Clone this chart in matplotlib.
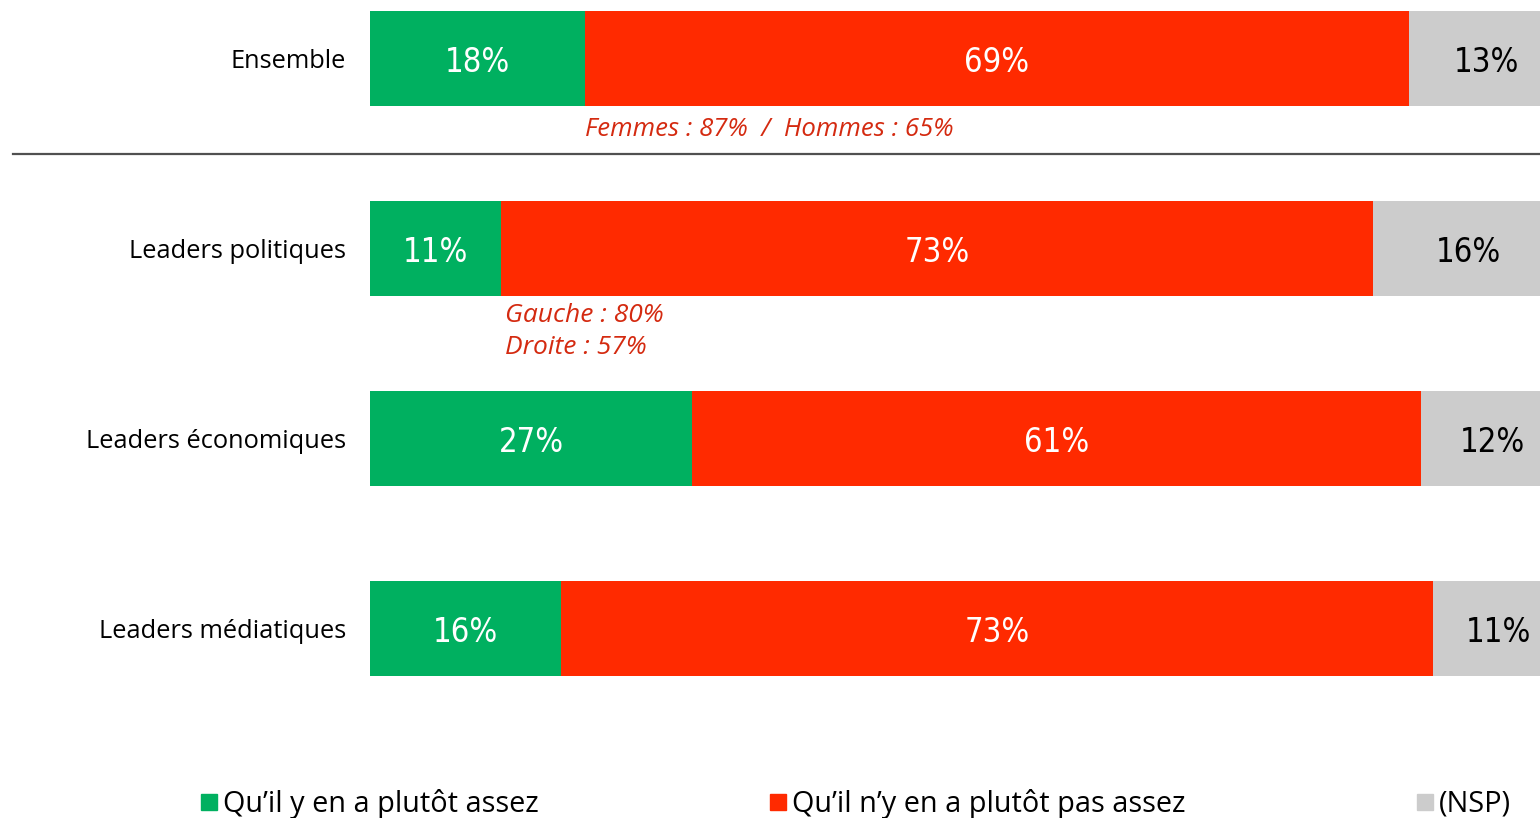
import matplotlib.pyplot as plt
import numpy as np

# data -----------------------------------------------------------------
categories = ["Ensemble", "Leaders politiques", "Leaders économiques", "Leaders médiatiques"]
assez = [18, 11, 27, 16]
pas_assez = [69, 73, 61, 73]
nsp = [13, 16, 12, 11]
series_names = ["Qu’il y en a plutôt assez", "Qu’il n’y en a plutôt pas assez", "(NSP)"]
colors = ["#00B060", "#FF2A00", "#CCCCCC"]
text_colors = ["white", "white", "black"]
note_ensemble = "Femmes : 87%  /  Hommes : 65%"
note_politiques = ["Gauche : 80%", "Droite : 57%"]

W, H = 1540, 818
fig = plt.figure(figsize=(W / 100, H / 100), dpi=100)
# axes in pixel-like units on y, percent on x (bars run past the right edge)
ax = fig.add_axes([370 / W, 0, 1 - 370 / W, 1])
ax.set_xlim(0, (W - 370) / 11.94)
ax.set_ylim(H, 0)
ax.axis("off")

pct_font = ["DejaVu Sans"]
lab_font = ["Open Sans", "DejaVu Sans"]

y = 58.5 + 190 * np.arange(len(categories))
series = [assez, pas_assez, nsp]
left = np.zeros(len(categories))
for vals, col, tcol in zip(series, colors, text_colors):
    vals = np.array(vals, dtype=float)
    ax.barh(y, vals, left=left, height=95, color=col, edgecolor="none")
    for yi, l, v in zip(y, left, vals):
        ax.text(l + v / 2, yi + 4, f"{int(v)}%", ha="center", va="center",
                color=tcol, fontsize=23.5, family=pct_font, fontstretch="condensed")
    left += vals

# category labels
for yi, cat in zip(y, categories):
    fig.text(346 / W, 1 - (yi + 3) / H, cat, ha="right", va="center",
             fontsize=18.3, family=lab_font, color="black")

# separator line
fig.add_artist(plt.Line2D([13 / W, 1], [1 - 154 / H, 1 - 154 / H],
                          color="#505050", lw=1.6))

# notes
red_note = "#D42A10"
ax.text(assez[0], 130, note_ensemble, ha="left", va="center", color=red_note,
        fontsize=18.5, style="italic", family=lab_font)
ax.text(assez[1] + 0.3, 316, note_politiques[0], ha="left", va="center", color=red_note,
        fontsize=19, style="italic", family=lab_font)
ax.text(assez[1] + 0.3, 348, note_politiques[1], ha="left", va="center", color=red_note,
        fontsize=19, style="italic", family=lab_font)

# legend
leg_x = [201, 770, 1417]
for lx, name, col in zip(leg_x, series_names, colors):
    fig.patches.append(plt.Rectangle((lx / W, 1 - 810 / H), 16 / W, 16 / H,
                                     transform=fig.transFigure, color=col))
    fig.text((lx + 22) / W, 1 - 804 / H, name, ha="left", va="center",
             fontsize=20.8, family=lab_font, color="black")

fig.savefig("out.png", dpi=100)
